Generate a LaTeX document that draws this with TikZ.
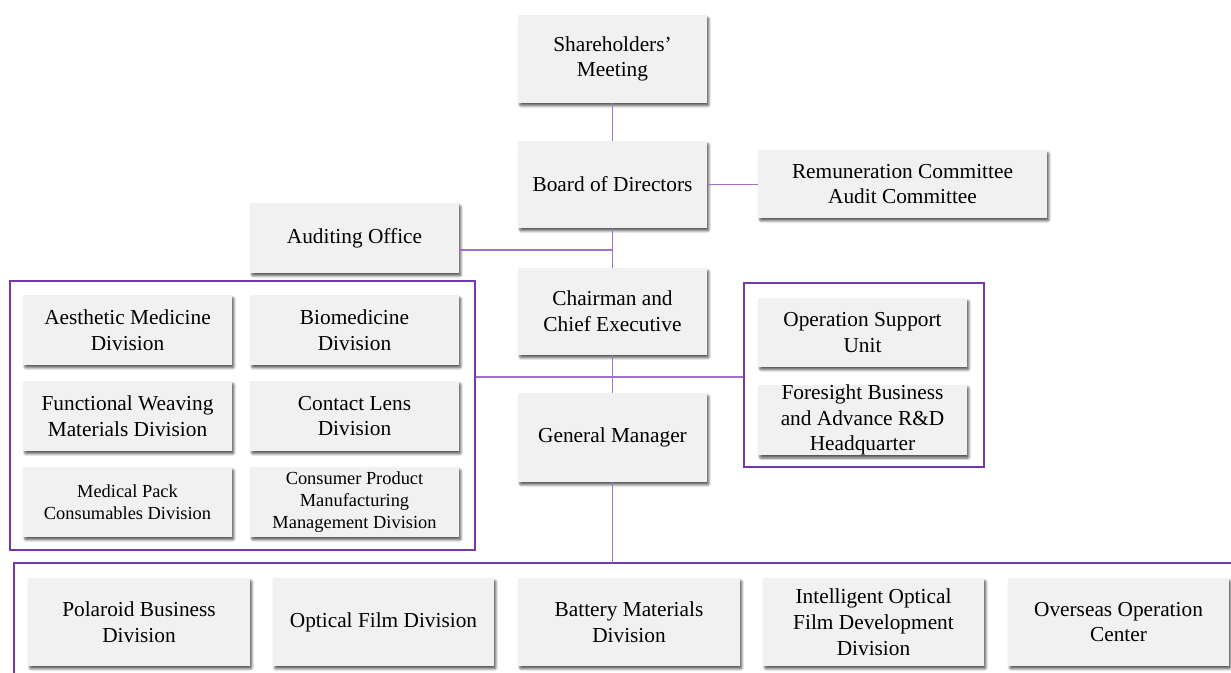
\documentclass[tikz,border=0pt]{standalone}
\usepackage{fontspec}
\setmainfont{LiberationSerif}[Extension=.ttf, UprightFont=*-Regular, BoldFont=*-Bold]
\newfontfamily\orgfont{LiberationSerif}[Extension=.ttf, UprightFont=*-Regular]
\usetikzlibrary{shadows,shadows.blur,calc}
\definecolor{boxfill}{RGB}{241,241,241}
\definecolor{linkpurple}{RGB}{160,112,204}
\definecolor{grppurple}{RGB}{117,56,170}
\tikzset{
  orgbox/.style={fill=boxfill, draw=none, inner sep=0pt, align=center,
    font=\orgfont\fontsize{16}{19.3}\selectfont,
    blur shadow={shadow xshift=1.4pt, shadow yshift=-2.1pt, shadow blur steps=6, shadow blur extra rounding=0.8pt, shadow opacity=65}},
  smalltext/.style={font=\orgfont\fontsize{13.8}{16.3}\selectfont},
  link/.style={draw=linkpurple, line width=1.2pt},
  grpbox/.style={draw=grppurple, line width=1.9pt, fill=none, inner sep=0pt},
  bx/.style 2 args={minimum width=#1*0.75pt, minimum height=#2*0.75pt},
}
\begin{document}
\begin{tikzpicture}[x=0.75pt, y=-0.75pt]
\useasboundingbox (0,0) rectangle (1231,672);
% groups
\node[grpbox, bx={465}{269}] (leftgrp) at (242.5,415.5) {};
\node[grpbox, bx={240}{184}] (rightgrp) at (864,375) {};
\coordinate (bgtop) at (612.5,563);
\coordinate (bgleft) at (14,563);
\coordinate (bgright) at (1240,563);
\coordinate (bgbottom) at (14,690);
\draw[draw=grppurple, line width=1.9pt] (bgright) -- (bgleft) -- (bgbottom);
% top chain
\node[orgbox, bx={189}{88}] (sh) at (612.5,59) {Shareholders’\\Meeting};
\node[orgbox, bx={189}{87}] (bod) at (612.5,184.5) {Board of Directors};
\node[orgbox, bx={289}{68}] (rem) at (902.5,184) {Remuneration Committee\\Audit Committee};
\node[orgbox, bx={209}{70}] (aud) at (354.5,238) {Auditing Office};
\node[orgbox, bx={189}{87}] (ch) at (612.5,311.5) {Chairman and\\Chief Executive};
\node[orgbox, bx={189}{89}] (gm) at (612.5,437.5) {General Manager};
% left group
\node[orgbox, bx={209}{70}] (aes) at (127.5,330) {Aesthetic Medicine\\Division};
\node[orgbox, bx={209}{70}] (bio) at (354.5,330) {Biomedicine\\Division};
\node[orgbox, bx={209}{70}] (fun) at (127.5,416) {Functional Weaving\\Materials Division};
\node[orgbox, bx={209}{70}] (con) at (354.5,416) {Contact Lens\\Division};
\node[orgbox, smalltext, bx={209}{70}] (med) at (127.5,502) {Medical Pack\\Consumables Division};
\node[orgbox, smalltext, bx={209}{70}] (cpm) at (354.5,502) {Consumer Product\\Manufacturing\\Management Division};
% right group
\node[orgbox, bx={209}{69}] (ops) at (862.5,332.5) {Operation Support\\Unit};
\node[orgbox, bx={209}{70}] (fore) at (862.5,420) {Foresight Business\\and Advance R\&D\\Headquarter};
% bottom row
\node[orgbox, bx={222}{88}] (pol) at (139,622) {Polaroid Business\\Division};
\node[orgbox, bx={221}{88}] (opt) at (383.5,622) {Optical Film Division};
\node[orgbox, bx={222}{88}] (bat) at (629,622) {Battery Materials\\Division};
\node[orgbox, bx={221}{88}] (iof) at (873.5,622) {Intelligent Optical\\Film Development\\Division};
\node[orgbox, bx={221}{88}] (ovs) at (1118.5,622) {Overseas Operation\\Center};
% connectors
\coordinate (hub) at (612.5,377);
\coordinate (audc) at ($(aud.east)+(0,12)$);
\draw[link] (sh.south) -- (bod.north);
\draw[link] (bod.south) -- (ch.north);
\draw[link] (ch.south) -- (gm.north);
\draw[link] (gm.south) -- (bgtop);
\draw[link] (bod.east) -- (bod.east -| rem.west);
\draw[link] (audc) -- (audc -| bod.south);
\draw[link] (leftgrp.east |- hub) -- (rightgrp.west |- hub);
\end{tikzpicture}
\end{document}
